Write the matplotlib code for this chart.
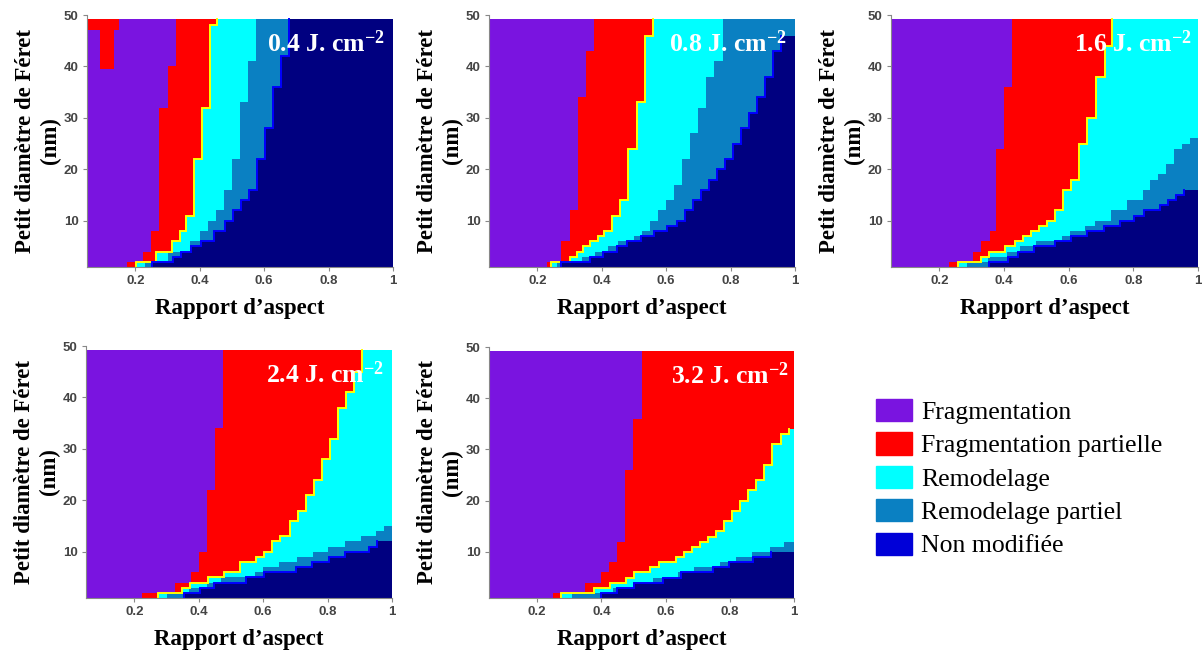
import numpy as np
import matplotlib
matplotlib.use("Agg")
import matplotlib.pyplot as plt
from matplotlib.colors import ListedColormap
from matplotlib.patches import Patch

plt.rcParams['mathtext.fontset'] = 'custom'
plt.rcParams['mathtext.rm'] = 'Liberation Serif:bold'
plt.rcParams['mathtext.it'] = 'Liberation Serif:bold'
plt.rcParams['mathtext.bf'] = 'Liberation Serif:bold'

# ---------------- data ----------------
CATEGORIES = ["Fragmentation", "Fragmentation partielle", "Remodelage",
              "Remodelage partiel", "Non modifiée"]
FLUENCES = ["0.4", "0.8", "1.6", "2.4", "3.2"]
X_TICKS = [0.2, 0.4, 0.6, 0.8, 1.0]
X_TICKLABELS = ["0.2", "0.4", "0.6", "0.8", "1"]
Y_TICKS = [10, 20, 30, 40, 50]

# Boundaries (aspect ratio threshold) per diameter band.
# D = lower edge of each band (nm, from top down), X = aspect ratio of boundary.
# b1: Fragmentation | Fragmentation partielle
# b2: Fragmentation partielle | Remodelage
# b3: Remodelage | Remodelage partiel
# b4: Remodelage partiel | Non modifiée
P1_B1_D = [40, 32, 8, 4, 2, 1]
P1_B1_X = [0.325, 0.30, 0.275, 0.25, 0.225, 0.175]
P1_B2_D = [48, 32, 22, 11, 8, 6, 4, 2, 1]
P1_B2_X = [0.45, 0.43, 0.405, 0.38, 0.355, 0.335, 0.31, 0.26, 0.20]
P1_B3_D = [41, 33, 22, 16, 12, 10, 8, 6, 4, 2, 1]
P1_B3_X = [0.575, 0.55, 0.525, 0.50, 0.475, 0.45, 0.425, 0.40, 0.37, 0.30, 0.23]
P1_B4_D = [42, 36, 28, 22, 16, 14, 12, 10, 8, 6, 5, 4, 3, 2, 1]
P1_B4_X = [0.675, 0.65, 0.625, 0.60, 0.575, 0.55, 0.525, 0.50, 0.475, 0.44,
           0.40, 0.37, 0.34, 0.315, 0.25]
# small partial-fragmentation island (aspect min, aspect max, diam min, diam max)
P1_ISLANDS = [(0.05, 0.15, 47.0, 49.25), (0.09, 0.135, 39.5, 47.0)]

P2_B1_D = [43, 34, 12, 6, 2, 1]
P2_B1_X = [0.375, 0.35, 0.325, 0.30, 0.275, 0.23]
P2_B2_D = [46, 33, 24, 14, 11, 8, 7, 6, 5, 4, 3, 2, 1]
P2_B2_X = [0.555, 0.53, 0.505, 0.48, 0.455, 0.43, 0.405, 0.385, 0.36, 0.34,
           0.32, 0.30, 0.24]
P2_B3_D = [41, 38, 32, 27, 22, 17, 14, 12, 10, 8, 7, 6, 5, 4, 3, 2, 1]
P2_B3_X = [0.775, 0.75, 0.725, 0.70, 0.675, 0.65, 0.625, 0.60, 0.575, 0.55,
           0.525, 0.50, 0.45, 0.42, 0.38, 0.34, 0.26]
P2_B4_D = [46, 43, 38, 34, 31, 28, 25, 22, 20, 18, 16, 14, 12, 10, 9, 8, 7,
           6, 5, 4, 3, 2, 1]
P2_B4_X = [1.0, 0.955, 0.93, 0.905, 0.88, 0.855, 0.83, 0.805, 0.78, 0.755,
           0.73, 0.705, 0.68, 0.655, 0.63, 0.60, 0.56, 0.52, 0.475, 0.445,
           0.40, 0.36, 0.27]

P3_B1_D = [36, 24, 8, 6, 4, 2, 1]
P3_B1_X = [0.425, 0.40, 0.375, 0.355, 0.33, 0.305, 0.23]
P3_B2_D = [44, 38, 30, 25, 18, 16, 12, 10, 9, 8, 7, 6, 5, 4, 3, 2, 1]
P3_B2_X = [0.73, 0.71, 0.68, 0.655, 0.63, 0.605, 0.58, 0.555, 0.53, 0.505,
           0.48, 0.455, 0.43, 0.40, 0.35, 0.325, 0.255]
P3_B3_D = [26, 25, 24, 21, 19, 18, 16, 14, 12, 10, 9, 8, 7, 6, 5, 4, 3, 2, 1]
P3_B3_X = [1.0, 0.975, 0.95, 0.925, 0.90, 0.875, 0.85, 0.83, 0.78, 0.73,
           0.68, 0.65, 0.605, 0.58, 0.50, 0.45, 0.41, 0.35, 0.285]
P3_B4_D = [16, 15, 14, 13, 12, 11, 10, 9, 8, 7, 6, 5, 4, 3, 2, 1]
P3_B4_X = [1.0, 0.955, 0.93, 0.905, 0.88, 0.83, 0.80, 0.755, 0.705, 0.655,
           0.605, 0.555, 0.49, 0.44, 0.41, 0.35]

P4_B1_D = [34, 22, 10, 6, 4, 2, 1]
P4_B1_X = [0.475, 0.45, 0.425, 0.40, 0.375, 0.325, 0.225]
P4_B2_D = [45, 41, 38, 32, 28, 24, 21, 18, 16, 13, 12, 10, 9, 8, 6, 5, 4, 3, 2, 1]
P4_B2_X = [0.905, 0.88, 0.855, 0.83, 0.805, 0.78, 0.755, 0.73, 0.705, 0.68,
           0.65, 0.625, 0.60, 0.575, 0.525, 0.475, 0.425, 0.37, 0.345, 0.27]
P4_B3_D = [15, 14, 13, 12, 11, 10, 9, 8, 7, 6, 5, 4, 3, 2, 1]
P4_B3_X = [1.0, 0.975, 0.95, 0.905, 0.855, 0.80, 0.755, 0.705, 0.65, 0.60,
           0.575, 0.47, 0.425, 0.37, 0.30]
P4_B4_D = [12, 11, 10, 9, 8, 7, 6, 5, 4, 3, 2, 1]
P4_B4_X = [1.0, 0.95, 0.925, 0.85, 0.80, 0.75, 0.70, 0.60, 0.545, 0.445,
           0.40, 0.35]

P5_B1_D = [36, 26, 12, 8, 6, 4, 2, 1]
P5_B1_X = [0.525, 0.50, 0.475, 0.45, 0.425, 0.40, 0.35, 0.25]
P5_B2_D = [34, 33, 31, 27, 24, 22, 20, 18, 16, 14, 13, 12, 11, 10, 9, 8, 7,
           6, 5, 4, 3, 2, 1]
P5_B2_X = [1.0, 0.98, 0.955, 0.93, 0.905, 0.88, 0.855, 0.83, 0.805, 0.78,
           0.755, 0.73, 0.705, 0.68, 0.655, 0.63, 0.575, 0.55, 0.50, 0.475,
           0.425, 0.375, 0.27]
P5_B3_D = [12, 11, 10, 9, 8, 7, 6, 5, 4, 3, 2, 1]
P5_B3_X = [1.0, 0.97, 0.925, 0.87, 0.82, 0.77, 0.69, 0.64, 0.56, 0.50,
           0.435, 0.31]
P5_B4_D = [10, 9, 8, 7, 6, 5, 4, 3, 2, 1]
P5_B4_X = [1.0, 0.925, 0.87, 0.795, 0.745, 0.645, 0.59, 0.50, 0.445, 0.395]

PANELS = [
    dict(fl=FLUENCES[0], b=[(P1_B1_D, P1_B1_X), (P1_B2_D, P1_B2_X),
                            (P1_B3_D, P1_B3_X), (P1_B4_D, P1_B4_X)], isl=P1_ISLANDS),
    dict(fl=FLUENCES[1], b=[(P2_B1_D, P2_B1_X), (P2_B2_D, P2_B2_X),
                            (P2_B3_D, P2_B3_X), (P2_B4_D, P2_B4_X)], isl=[]),
    dict(fl=FLUENCES[2], b=[(P3_B1_D, P3_B1_X), (P3_B2_D, P3_B2_X),
                            (P3_B3_D, P3_B3_X), (P3_B4_D, P3_B4_X)], isl=[]),
    dict(fl=FLUENCES[3], b=[(P4_B1_D, P4_B1_X), (P4_B2_D, P4_B2_X),
                            (P4_B3_D, P4_B3_X), (P4_B4_D, P4_B4_X)], isl=[]),
    dict(fl=FLUENCES[4], b=[(P5_B1_D, P5_B1_X), (P5_B2_D, P5_B2_X),
                            (P5_B3_D, P5_B3_X), (P5_B4_D, P5_B4_X)], isl=[]),
]

# ---------------- style ----------------
MAP_COLORS = ["#7A14E0", "#FF0000", "#00FFFF", "#0A80C2", "#000080"]
LEGEND_COLORS = ["#7A14E0", "#FF0000", "#00FFFF", "#0A80C2", "#0000D8"]
XMIN, XMAX = 0.05, 1.0
YMIN, YTOP, YMAX = 1.0, 49.25, 50.0

W, H = 1203, 657
# axes boxes in pixels: left, top, right, bottom
BOXES = [(87, 15, 393, 267), (489, 15, 795, 267), (891, 15, 1198, 267),
         (86, 346, 392, 598), (489, 347, 794, 598)]
TEXT_X = [0.975, 0.975, 0.98, 0.975, 0.985]

fig = plt.figure(figsize=(W / 100, H / 100), dpi=100)

xe = np.arange(XMIN, XMAX + 1e-9, 0.0025)
ye = np.arange(YMIN, YTOP + 1e-9, 0.25)
xc = 0.5 * (xe[:-1] + xe[1:])
yc = 0.5 * (ye[:-1] + ye[1:])


def bound_at(D, X, y):
    for d, x in zip(D, X):
        if y >= d:
            return x
    return X[-1]


def step_path(D, X):
    xs, ys = [], []
    tops = [YTOP] + list(D[:-1])
    for top, bot, x in zip(tops, D, X):
        bot = YMIN if bot == D[-1] else bot
        xs += [x, x]
        ys += [top, bot]
    return np.array(xs), np.array(ys)


cmap = ListedColormap(MAP_COLORS)
for box, panel, tx in zip(BOXES, PANELS, TEXT_X):
    l, t, r, b = box
    ax = fig.add_axes([l / W, 1 - b / H, (r - l) / W, (b - t) / H])
    Z = np.zeros((len(yc), len(xc)))
    for D, X in panel["b"]:
        bx = np.array([bound_at(D, X, y) for y in yc])
        Z += (xc[None, :] >= bx[:, None])
    for x0, x1, y0, y1 in panel["isl"]:
        m = (xc[None, :] >= x0) & (xc[None, :] <= x1) & (yc[:, None] >= y0) & (yc[:, None] <= y1)
        Z[m] = 1
    ax.pcolormesh(xe, ye, Z, cmap=cmap, vmin=-0.5, vmax=4.5, shading="flat",
                  rasterized=True)
    # contour-like lines
    for (D, X), col in [(panel["b"][1], "#FFFF00"), (panel["b"][3], "#0000FF")]:
        xs, ys = step_path(D, X)
        xs = np.where(xs >= 0.999, np.nan, xs)
        ax.plot(xs + 0.003, ys, color=col, lw=1.4, solid_joinstyle="miter")

    ax.set_xlim(XMIN, XMAX)
    ax.set_ylim(YMIN, YMAX)
    ax.set_xticks(X_TICKS)
    ax.set_xticklabels(X_TICKLABELS)
    ax.set_yticks(Y_TICKS)
    for s in ["top", "right"]:
        ax.spines[s].set_visible(False)
    for s in ["left", "bottom"]:
        ax.spines[s].set_color("#888888")
        ax.spines[s].set_linewidth(0.8)
    ax.tick_params(direction="out", length=3, width=0.8, color="#888888",
                   labelcolor="#444444", labelsize=9.5, pad=3)
    for lab in ax.get_xticklabels() + ax.get_yticklabels():
        lab.set_fontweight("bold")
        lab.set_family("Liberation Sans")
    ax.set_ylabel("Petit diamètre de Féret\n(nm)", family="Liberation Serif",
                  fontweight="bold", fontsize=16.5, linespacing=1.25)
    ax.yaxis.set_label_coords(-0.085, 0.5)
    ax.set_xlabel("Rapport d’aspect", family="Liberation Serif",
                  fontweight="bold", fontsize=16.5)
    ax.xaxis.set_label_coords(0.5, -0.125)
    ax.text(tx, 0.885, panel["fl"] + r" J. cm$^{-2}$", transform=ax.transAxes,
            ha="right", va="center", color="white", fontsize=18.5,
            fontweight="bold", family="Liberation Serif")

handles = [Patch(facecolor=c, edgecolor=c) for c in LEGEND_COLORS]
fig.legend(handles, CATEGORIES, loc="upper left",
           bbox_to_anchor=(876 / W, 1 - 399 / H), frameon=False,
           prop=dict(family="Liberation Serif", size=18.5),
           handlelength=1.4, handleheight=0.95, handletextpad=0.35,
           labelspacing=0.33, borderpad=0, borderaxespad=0)

fig.savefig("out.png", dpi=100)
